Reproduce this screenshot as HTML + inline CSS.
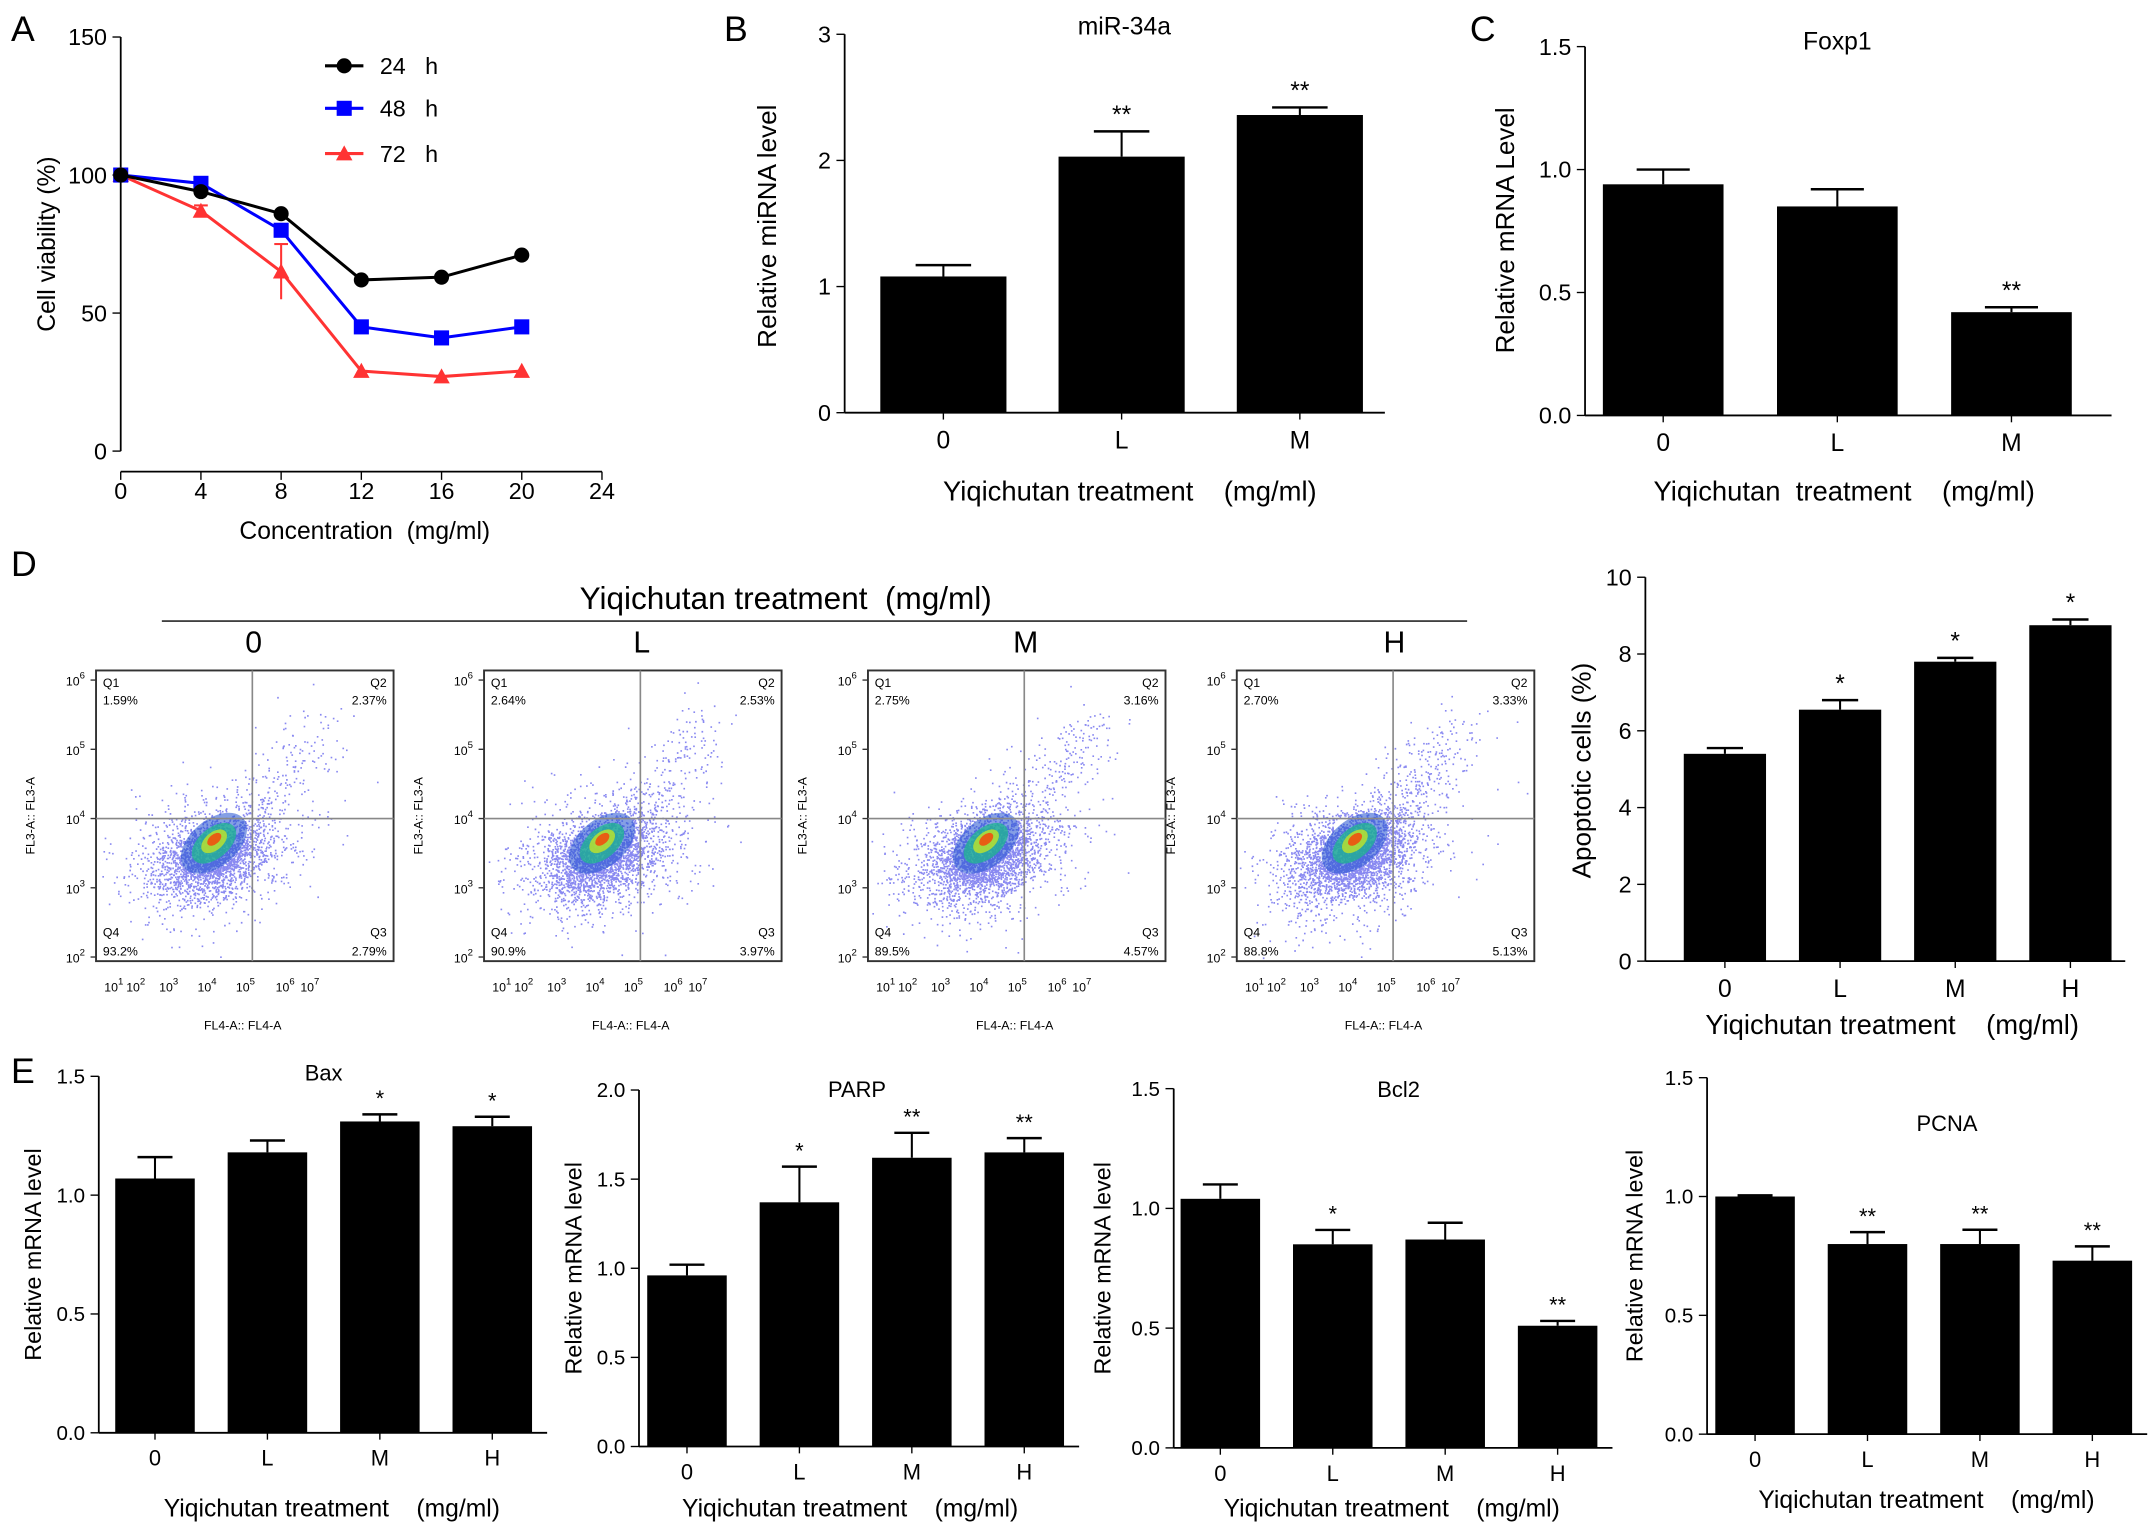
<!DOCTYPE html>
<html><head><meta charset="utf-8"><style>
html,body{margin:0;padding:0;background:#fff}
svg{display:block;font-family:"Liberation Sans",Arial,sans-serif}
.pre{white-space:pre}
</style></head><body>
<svg id="fig" width="2150" height="1537" viewBox="0 0 1568 1121" xmlns="http://www.w3.org/2000/svg"></svg>
<script>
// ---- Panel A data ----
const aConc = [0, 4, 8, 12, 16, 20];
const a24 = [100, 94, 86, 62, 63, 71];
const a48 = [100, 97, 80, 45, 41, 45];
const a72 = [100, 87, 65, 29, 27, 29];
const a72err = [0, 2, 10, 1, 1, 1];
const aXTicks = [0, 4, 8, 12, 16, 20, 24];
const aYTicks = [0, 50, 100, 150];
// ---- Panel B ----
const bCats = ["0", "L", "M"];
const bVals = [1.08, 2.03, 2.36];
const bErr = [0.09, 0.2, 0.06];
const bStars = ["", "**", "**"];
// ---- Panel C ----
const cCats = ["0", "L", "M"];
const cVals = [0.94, 0.85, 0.42];
const cErr = [0.06, 0.07, 0.02];
const cStars = ["", "", "**"];
// ---- Panel D bar ----
const dCats = ["0", "L", "M", "H"];
const dVals = [5.4, 6.55, 7.8, 8.75];
const dErr = [0.15, 0.25, 0.1, 0.15];
const dStars = ["", "*", "*", "*"];
// ---- Panel D flow ----
const flowLabels = ["0", "L", "M", "H"];
const flowQ1 = ["1.59%", "2.64%", "2.75%", "2.70%"];
const flowQ2 = ["2.37%", "2.53%", "3.16%", "3.33%"];
const flowQ3 = ["2.79%", "3.97%", "4.57%", "5.13%"];
const flowQ4 = ["93.2%", "90.9%", "89.5%", "88.8%"];
// ---- Panel E ----
const eCats = ["0", "L", "M", "H"];
const baxVals = [1.07, 1.18, 1.31, 1.29];
const baxErr = [0.09, 0.05, 0.03, 0.04];
const baxStars = ["", "", "*", "*"];
const parpVals = [0.96, 1.37, 1.62, 1.65];
const parpErr = [0.06, 0.2, 0.14, 0.08];
const parpStars = ["", "*", "**", "**"];
const bcl2Vals = [1.04, 0.85, 0.87, 0.51];
const bcl2Err = [0.06, 0.06, 0.07, 0.02];
const bcl2Stars = ["", "*", "", "**"];
const pcnaVals = [1.0, 0.8, 0.8, 0.73];
const pcnaErr = [0.005, 0.05, 0.06, 0.06];
const pcnaStars = ["", "**", "**", "**"];

const NS = "http://www.w3.org/2000/svg";
const svg = document.getElementById("fig");
function el(tag, attrs, parent, text) {
  const e = document.createElementNS(NS, tag);
  for (const k in attrs) e.setAttribute(k, attrs[k]);
  if (text !== undefined) e.textContent = text;
  (parent || svg).appendChild(e);
  return e;
}
function grp(name, parent) {
  const g = el("g", {}, parent);
  
  
  return g;
}
function txt(g, x, y, s, size, anchor, name, extra) {
  const t = el("text", Object.assign({x: x, y: y, "font-size": size, "text-anchor": anchor || "middle", fill: "#000"}, extra || {}), g, s);
  
  
  return t;
}

[["A", 8, 30], ["B", 528, 30], ["C", 1072, 30], ["D", 8, 420], ["E", 8, 790]].forEach(p => {
  txt(svg, p[1], p[2], p[0], 26, "start", "panel-letter-" + p[0].toLowerCase());
});

// ---------- Panel A ----------
(function () {
  const g = grp("panel-a-line-chart");
  const X = v => 88 + (v / 24) * 351;
  const Y = v => 329 - (v / 150) * 302;
  el("line", {x1: 88, y1: Y(150), x2: 88, y2: 329, stroke: "#000", "stroke-width": 1.3}, g);
  el("line", {x1: 88, y1: 344, x2: X(24), y2: 344, stroke: "#000", "stroke-width": 1.3}, g);
  aYTicks.forEach(t => {
    el("line", {x1: 82, y1: Y(t), x2: 88, y2: Y(t), stroke: "#000"}, g);
    txt(g, 78, Y(t) + 6, String(t), 17, "end", "y-tick-label");
  });
  aXTicks.forEach(t => {
    el("line", {x1: X(t), y1: 344, x2: X(t), y2: 350, stroke: "#000"}, g);
    txt(g, X(t), 364, String(t), 17, "middle", "x-tick-label");
  });
  txt(g, 266, 393, "Concentration  (mg/ml)", 18, "middle", "x-axis-title", {"class": "pre"});
  txt(g, 40, 178, "Cell viability (%)", 18, "middle", "y-axis-title", {transform: "rotate(-90 40 178)"});
  const series = [[a24, "#000", "circle", "24   h", 48], [a48, "#0000ff", "square", "48   h", 79], [a72, "#ff3333", "tri", "72   h", 112]];
  function marker(gg, x, y, shape, col) {
    if (shape === "circle") el("circle", {cx: x, cy: y, r: 5.5, fill: col}, gg);
    else if (shape === "square") el("rect", {x: x - 5.5, y: y - 5.5, width: 11, height: 11, fill: col}, gg);
    else el("polygon", {points: `${x},${y - 6} ${x - 6},${y + 5} ${x + 6},${y + 5}`, fill: col}, gg);
  }
  a72err.forEach((e, i) => {
    if (e > 1) {
      el("line", {x1: X(aConc[i]), y1: Y(a72[i] + e), x2: X(aConc[i]), y2: Y(a72[i] - e), stroke: "#ff3333", "stroke-width": 1.5}, g);
      el("line", {x1: X(aConc[i]) - 5, y1: Y(a72[i] + e), x2: X(aConc[i]) + 5, y2: Y(a72[i] + e), stroke: "#ff3333", "stroke-width": 1.5}, g);
    }
  });
  series.slice().reverse().forEach(s => {
    const sg = grp("series-" + s[3].replace(/\s+/g, ""), g);
    const pts = s[0].map((v, i) => X(aConc[i]) + "," + Y(v)).join(" ");
    el("polyline", {points: pts, fill: "none", stroke: s[1], "stroke-width": 2.2}, sg);
    s[0].forEach((v, i) => marker(sg, X(aConc[i]), Y(v), s[2], s[1]));
    const lg = grp("legend-entry", g);
    el("line", {x1: 237, y1: s[4], x2: 265, y2: s[4], stroke: s[1], "stroke-width": 2.2}, lg);
    marker(lg, 251, s[4], s[2], s[1]);
    txt(lg, 277, s[4] + 6, s[3], 17, "start", "legend-label", {"class": "pre"});
  });
})();

// ---------- Generic bar chart ----------
function barChart(o) {
  const g = grp(o.name);
  const Y = v => o.y0 - (v / o.ymax) * (o.y0 - o.ytop);
  el("line", {x1: o.ax, y1: o.ytop, x2: o.ax, y2: o.y0, stroke: "#000", "stroke-width": 1.3}, g);
  el("line", {x1: o.ax, y1: o.y0, x2: o.xend, y2: o.y0, stroke: "#000", "stroke-width": 1.3}, g);
  o.ticks.forEach(t => {
    el("line", {x1: o.ax - 6, y1: Y(t), x2: o.ax, y2: Y(t), stroke: "#000"}, g);
    txt(g, o.ax - 10, Y(t) + o.fs * 0.35, o.fmt(t), o.fs, "end", "y-tick-label");
  });
  o.vals.forEach((v, i) => {
    const cx = o.x0 + i * o.step;
    const bg = grp("bar-" + o.cats[i], g);
    el("line", {x1: cx, y1: Y(v), x2: cx, y2: Y(v + o.err[i]), stroke: "#000", "stroke-width": 1.5}, bg);
    el("line", {x1: cx - o.bw * 0.22, y1: Y(v + o.err[i]), x2: cx + o.bw * 0.22, y2: Y(v + o.err[i]), stroke: "#000", "stroke-width": 1.8}, bg);
    el("rect", {x: cx - o.bw / 2, y: Y(v), width: o.bw, height: o.y0 - Y(v), fill: "#000"}, bg);
    el("line", {x1: cx, y1: o.y0, x2: cx, y2: o.y0 + 5, stroke: "#000"}, g);
    txt(g, cx, o.y0 + o.fs + 9, o.cats[i], o.fs + 1, "middle", "x-tick-label");
    if (o.stars[i]) txt(g, cx, Y(v + o.err[i]) - 6, o.stars[i], o.fs + 1, "middle", "significance-marker");
  });
  if (o.title) txt(g, o.titleX, o.titleY, o.title, o.fs + 1, "middle", "chart-title");
  txt(g, o.xlX, o.xlY, o.xlabel, o.fs + 3, "middle", "x-axis-title", {"class": "pre"});
  txt(g, o.ylX, o.ylY, o.ylabel, o.fs + 2, "middle", "y-axis-title", {transform: `rotate(-90 ${o.ylX} ${o.ylY})`});
}
const f1 = t => t.toFixed(1), f0 = t => String(t);
barChart({name: "panel-b-mir34a-chart", ax: 616, y0: 301, ytop: 25, ymax: 3, xend: 1010, ticks: [0, 1, 2, 3], fmt: f0, fs: 17,
  cats: bCats, vals: bVals, err: bErr, stars: bStars, x0: 688, step: 130, bw: 92,
  title: "miR-34a", titleX: 820, titleY: 25, xlabel: "Yiqichutan treatment    (mg/ml)", xlX: 824, xlY: 365,
  ylabel: "Relative miRNA level", ylX: 566, ylY: 165});
barChart({name: "panel-c-foxp1-chart", ax: 1156, y0: 303, ytop: 34, ymax: 1.5, xend: 1540, ticks: [0, 0.5, 1.0, 1.5], fmt: f1, fs: 17,
  cats: cCats, vals: cVals, err: cErr, stars: cStars, x0: 1213, step: 127, bw: 88,
  title: "Foxp1", titleX: 1340, titleY: 36, xlabel: "Yiqichutan  treatment    (mg/ml)", xlX: 1345, xlY: 365,
  ylabel: "Relative mRNA Level", ylX: 1104, ylY: 168});
barChart({name: "panel-d-apoptosis-chart", ax: 1200, y0: 701, ytop: 421, ymax: 10, xend: 1550, ticks: [0, 2, 4, 6, 8, 10], fmt: f0, fs: 17,
  cats: dCats, vals: dVals, err: dErr, stars: dStars, x0: 1258, step: 84, bw: 60,
  title: "", titleX: 0, titleY: 0, xlabel: "Yiqichutan treatment    (mg/ml)", xlX: 1380, xlY: 754,
  ylabel: "Apoptotic cells (%)", ylX: 1160, ylY: 562});
const eDefs = [
  ["panel-e-bax-chart", 72, 1045, 785, 1.5, [0, 0.5, 1.0, 1.5], baxVals, baxErr, baxStars, 113, "Bax", 236, 788, 242, 1106, 30],
  ["panel-e-parp-chart", 466, 1055, 795, 2.0, [0, 0.5, 1.0, 1.5, 2.0], parpVals, parpErr, parpStars, 501, "PARP", 625, 800, 620, 1106, 424],
  ["panel-e-bcl2-chart", 856, 1056, 794, 1.5, [0, 0.5, 1.0, 1.5], bcl2Vals, bcl2Err, bcl2Stars, 890, "Bcl2", 1020, 800, 1015, 1106, 810],
  ["panel-e-pcna-chart", 1245, 1046, 786, 1.5, [0, 0.5, 1.0, 1.5], pcnaVals, pcnaErr, pcnaStars, 1280, "PCNA", 1420, 825, 1405, 1100, 1198]
];
eDefs.forEach(d => barChart({name: d[0], ax: d[1], y0: d[2], ytop: d[3], ymax: d[4], xend: d[9] + 3 * 82 + 40, ticks: d[5], fmt: f1, fs: 15,
  cats: eCats, vals: d[6], err: d[7], stars: d[8], x0: d[9], step: 82, bw: 58,
  title: d[10], titleX: d[11], titleY: d[12], xlabel: "Yiqichutan treatment    (mg/ml)", xlX: d[13], xlY: d[14],
  ylabel: "Relative mRNA level", ylX: d[15], ylY: (d[2] + d[3]) / 2}));

// ---------- Flow plots ----------
(function () {
  const g = grp("panel-d-flow-cytometry");
  txt(g, 573, 444, "Yiqichutan treatment  (mg/ml)", 23, "middle", "flow-group-title", {"class": "pre"});
  el("line", {x1: 118, y1: 453, x2: 1070, y2: 453, stroke: "#000", "stroke-width": 1}, g);
  const lefts = [70, 353, 633, 902];
  let seed = 12345;
  const rnd = () => { seed = (seed * 1103515245 + 12345) % 2147483648; return seed / 2147483648; };
  const gauss = () => { let u = rnd() || 1e-6, v = rnd(); return Math.sqrt(-2 * Math.log(u)) * Math.cos(2 * Math.PI * v); };
  lefts.forEach((L, k) => {
    const pg = grp("flow-plot-" + flowLabels[k], g);
    const T = 489, W = 217, H = 212;
    txt(pg, L + 115, 476, flowLabels[k], 22, "middle", "flow-plot-label");
    const cx = L + 84, cy = T + 136;
    let dots = "";
    const n = 2600 + k * 200;
    for (let i = 0; i < n; i++) {
      const a = gauss(), b = gauss();
      const s = rnd() < 0.35 ? 1.7 : 1;
      const x = cx + (a * 0.75 + b * 0.45) * 22 * s;
      const y = cy + (-a * 0.55 + b * 0.5) * 19 * s;
      if (x > L + 2 && x < L + W - 2 && y > T + 2 && y < T + H - 2) dots += `M${x.toFixed(1)} ${y.toFixed(1)}h1.2v1.2h-1.2z`;
    }
    for (let i = 0; i < 180 + k * 40; i++) {
      const t = rnd();
      const x = cx + 15 + t * 65 + gauss() * 13, y = cy - 15 - t * 80 + gauss() * 13;
      if (x > L + 2 && x < L + W - 2 && y > T + 2) dots += `M${x.toFixed(1)} ${y.toFixed(1)}h1.2v1.2h-1.2z`;
    }
    el("path", {d: dots, fill: "#3a3ae8", opacity: 0.6}, pg);
    const ex = cx + 2, ey = cy - 10;
    const rot = `rotate(-40 ${ex} ${ey})`;
    el("ellipse", {cx: ex, cy: ey, rx: 28, ry: 17, fill: "#2050d0", opacity: 0.55, transform: rot}, pg);
    el("ellipse", {cx: ex, cy: ey, rx: 19, ry: 11, fill: "#20b890", opacity: 0.75, transform: rot}, pg);
    el("ellipse", {cx: ex + 1, cy: ey - 1, rx: 11, ry: 6.5, fill: "#b8e030", opacity: 0.85, transform: rot}, pg);
    el("ellipse", {cx: ex + 2, cy: ey - 2, rx: 6, ry: 3.5, fill: "#f05010", opacity: 0.9, transform: rot}, pg);
    el("rect", {x: L, y: T, width: W, height: H, fill: "none", stroke: "#333", "stroke-width": 1.4}, pg);
    el("line", {x1: L + 114, y1: T, x2: L + 114, y2: T + H, stroke: "#888", "stroke-width": 1.2}, pg);
    el("line", {x1: L, y1: T + 108, x2: L + W, y2: T + 108, stroke: "#888", "stroke-width": 1.2}, pg);
    txt(pg, L + 5, T + 12, "Q1", 9, "start", "quadrant-label");
    txt(pg, L + 5, T + 25, flowQ1[k], 9, "start", "quadrant-percent");
    txt(pg, L + W - 5, T + 12, "Q2", 9, "end", "quadrant-label");
    txt(pg, L + W - 5, T + 25, flowQ2[k], 9, "end", "quadrant-percent");
    txt(pg, L + 5, T + H - 18, "Q4", 9, "start", "quadrant-label");
    txt(pg, L + 5, T + H - 4, flowQ4[k], 9, "start", "quadrant-percent");
    txt(pg, L + W - 5, T + H - 18, "Q3", 9, "end", "quadrant-label");
    txt(pg, L + W - 5, T + H - 4, flowQ3[k], 9, "end", "quadrant-percent");
    [2, 3, 4, 5, 6].forEach((p, j) => {
      const y = T + H - j * 50.5 - 3;
      el("line", {x1: L - 4, y1: y, x2: L, y2: y, stroke: "#333"}, pg);
      const t = txt(pg, L - 22, y + 4, "10", 9, "start", "y-tick-label");
      el("tspan", {dy: -5, "font-size": 7}, t, String(p));
    });
    [1, 2, 3, 4, 5, 6, 7].forEach((p, j) => {
      const xs = [12, 28, 52, 80, 108, 137, 155];
      const x = L + xs[j];
      const t = txt(pg, x - 6, T + H + 22, "10", 9, "start", "x-tick-label");
      el("tspan", {dy: -5, "font-size": 7}, t, String(p));
    });
    txt(pg, L + 107, T + H + 50, "FL4-A:: FL4-A", 9, "middle", "x-axis-title");
    txt(pg, L - 45, T + 106, "FL3-A:: FL3-A", 9, "middle", "y-axis-title", {transform: `rotate(-90 ${L - 45} ${T + 106})`});
  });
})();
</script>
</body></html>
